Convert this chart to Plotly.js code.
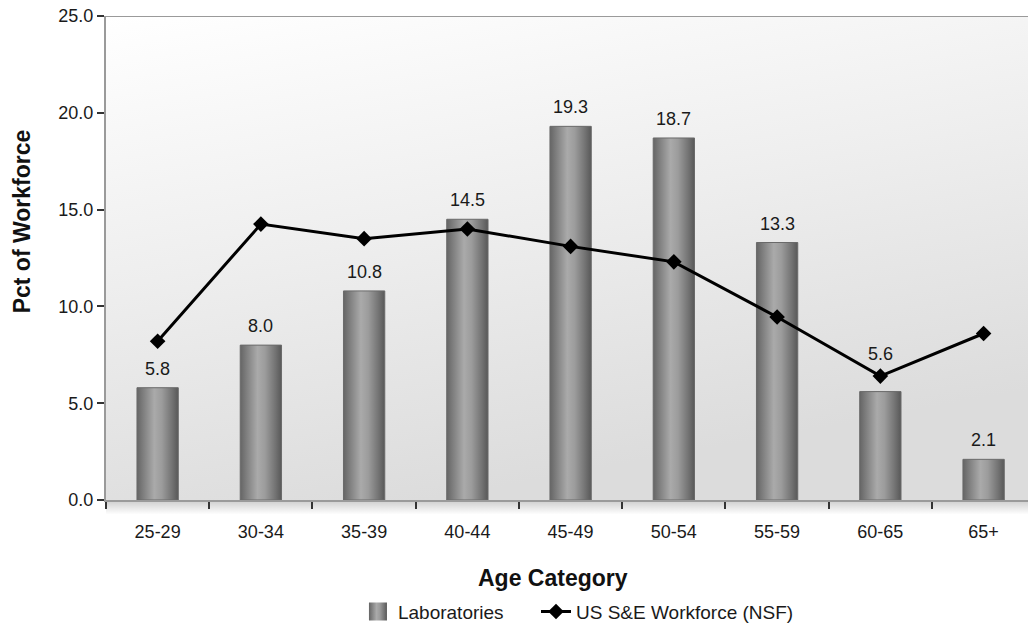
<!DOCTYPE html>
<html>
<head>
<meta charset="utf-8">
<script src="https://cdn.plot.ly/plotly-3.0.1.min.js"></script>
<style>
  html, body { margin: 0; padding: 0; background: #fff; overflow: hidden; }
  #chart { width: 1028px; height: 628px; }
</style>
</head>
<body>
<div id="chart"></div>
<script>
// Age distribution of the workforce
const ageCategories = ['25-29', '30-34', '35-39', '40-44', '45-49', '50-54', '55-59', '60-65', '65+'];
const labPct = [5.8, 8.0, 10.8, 14.5, 19.3, 18.7, 13.3, 5.6, 2.1];
const nsfPct = [8.2, 14.25, 13.5, 14.0, 13.1, 12.3, 9.45, 6.4, 8.6];
const yTicks = [0, 5, 10, 15, 20, 25];

const FONT = 'Liberation Sans, Arial, Helvetica, sans-serif';
const BAR_BASE = '#8e8e8e';
const TXT = '#1a1a1a';

const bars = {
    type: 'bar',
    name: 'Laboratories',
    x: ageCategories,
    y: labPct,
    legend: 'legend',
    marker: { color: BAR_BASE, line: { color: '#6a6a6a', width: 1 } },
    hoverinfo: 'x+y'
};

const nsfLine = {
    type: 'scatter',
    mode: 'lines+markers',
    name: 'US S&E Workforce (NSF)',
    x: ageCategories,
    y: nsfPct,
    legend: 'legend2',
    line: { color: '#000', width: 3 },
    marker: { symbol: 'diamond', size: 12, color: '#000' }
};

// value labels above the bars (the 60-65 one sits above the line marker)
const barLabels = ageCategories.map((cat, i) => ({
    x: cat,
    y: labPct[i],
    xref: 'x',
    yref: 'y',
    text: labPct[i].toFixed(1),
    showarrow: false,
    yanchor: 'bottom',
    yshift: cat === '60-65' ? 26 : 7,
    font: { family: FONT, size: 18, color: TXT }
}));

const legendBase = {
    orientation: 'h',
    xref: 'container',
    yref: 'container',
    xanchor: 'left',
    y: 0.026,
    yanchor: 'middle',
    font: { family: FONT, size: 19, color: TXT },
    bgcolor: 'rgba(0,0,0,0)',
    itemwidth: 30
};

const layout = {
    width: 1028,
    height: 628,
    margin: { t: 16, b: 128, l: 106, r: 0 },
    paper_bgcolor: '#fff',
    plot_bgcolor: '#eeeeee',
    font: { family: FONT, size: 18, color: TXT },
    bargap: 0.6,
    showlegend: true,
    legend: Object.assign({}, legendBase, { x: 0.3482 }),
    legend2: Object.assign({}, legendBase, { x: 0.5214 }),
    xaxis: {
        type: 'category',
        range: [-0.5, 8.43],
        showline: true,
        linecolor: '#9a9a9a',
        linewidth: 2,
        ticks: 'outside',
        tickson: 'boundaries',
        ticklen: 7,
        tickwidth: 2,
        tickcolor: '#333',
        ticklabelstandoff: 14,
        showgrid: false,
        zeroline: false,
        tickfont: { family: FONT, size: 18, color: TXT },
        fixedrange: true
    },
    yaxis: {
        range: [0, 25],
        tickvals: yTicks,
        tickformat: '.1f',
        showline: true,
        linecolor: '#9a9a9a',
        linewidth: 2,
        ticks: 'outside',
        ticklen: 7,
        tickwidth: 2,
        tickcolor: '#333',
        showgrid: false,
        zeroline: false,
        tickfont: { family: FONT, size: 18, color: TXT },
        fixedrange: true
    },
    shapes: [
        {
            type: 'line', xref: 'paper', yref: 'y',
            x0: 0, x1: 1, y0: 25, y1: 25,
            line: { color: '#9a9a9a', width: 2 }
        },
        {
            // soft shadow under the category axis
            type: 'rect', xref: 'paper', yref: 'paper', layer: 'below',
            x0: 0, x1: 1, y0: -0.003, y1: -0.03,
            fillcolor: 'rgba(0,0,0,0.06)',
            line: { width: 0 }
        }
    ],
    annotations: barLabels.concat([
        {
            text: '<b>Pct of Workforce</b>',
            xref: 'paper', yref: 'paper',
            x: -0.091, y: 0.576,
            xanchor: 'center', yanchor: 'middle',
            textangle: -90,
            showarrow: false,
            font: { family: FONT, size: 23, color: '#111' }
        },
        {
            text: '<b>Age Category</b>',
            xref: 'paper', yref: 'paper',
            x: 0.485, y: -0.161,
            xanchor: 'center', yanchor: 'middle',
            showarrow: false,
            font: { family: FONT, size: 23, color: '#111' }
        }
    ])
};

function addGradients(gd) {
    const svgNS = 'http://www.w3.org/2000/svg';
    const defs = gd.querySelector('svg.main-svg defs');
    if (!defs) return;

    function makeGrad(id, x2, y2, stops) {
        const g = document.createElementNS(svgNS, 'linearGradient');
        g.setAttribute('id', id);
        g.setAttribute('x1', '0'); g.setAttribute('y1', '0');
        g.setAttribute('x2', x2); g.setAttribute('y2', y2);
        stops.forEach(s => {
            const st = document.createElementNS(svgNS, 'stop');
            st.setAttribute('offset', s[0]);
            st.setAttribute('stop-color', s[1]);
            if (s[2] !== undefined) st.setAttribute('stop-opacity', s[2]);
            g.appendChild(st);
        });
        defs.appendChild(g);
    }

    makeGrad('barGrad', '1', '0', [
        ['0', '#656565'], ['0.15', '#7e7e7e'], ['0.42', '#aaaaaa'],
        ['0.6', '#9c9c9c'], ['0.85', '#737373'], ['1', '#585858']
    ]);
    makeGrad('bgGrad', '0.35', '1', [
        ['0', '#ffffff'], ['0.5', '#eeeeee'], ['1', '#dcdcdc']
    ]);
    makeGrad('shadowGrad', '0', '1', [
        ['0', '#000000', 0.18], ['1', '#000000', 0]
    ]);

    gd.querySelectorAll('.barlayer .point path').forEach(p => {
        p.style.setProperty('fill', 'url(#barGrad)');
    });
    // bigger square swatch for the bar legend entry
    gd.querySelectorAll('.legendpoints path').forEach(p => {
        if (p.style.fill && p.style.fill.indexOf('142') !== -1) {
            p.setAttribute('d', 'M9,9H-9V-9H9Z');
            p.style.setProperty('fill', 'url(#barGrad)');
            p.style.setProperty('stroke-width', '0');
        }
    });
    gd.querySelectorAll('.shapelayer path').forEach(p => {
        if (p.getAttribute('data-index') === '1') {
            p.style.setProperty('fill', 'url(#shadowGrad)');
            p.style.setProperty('fill-opacity', '1');
        }
    });
    const bg = gd.querySelector('.bglayer rect.bg');
    if (bg) bg.style.setProperty('fill', 'url(#bgGrad)');
}

Plotly.newPlot('chart', [bars, nsfLine], layout, { displayModeBar: false, staticPlot: true })
    .then(gd => addGradients(gd));
</script>
</body>
</html>
